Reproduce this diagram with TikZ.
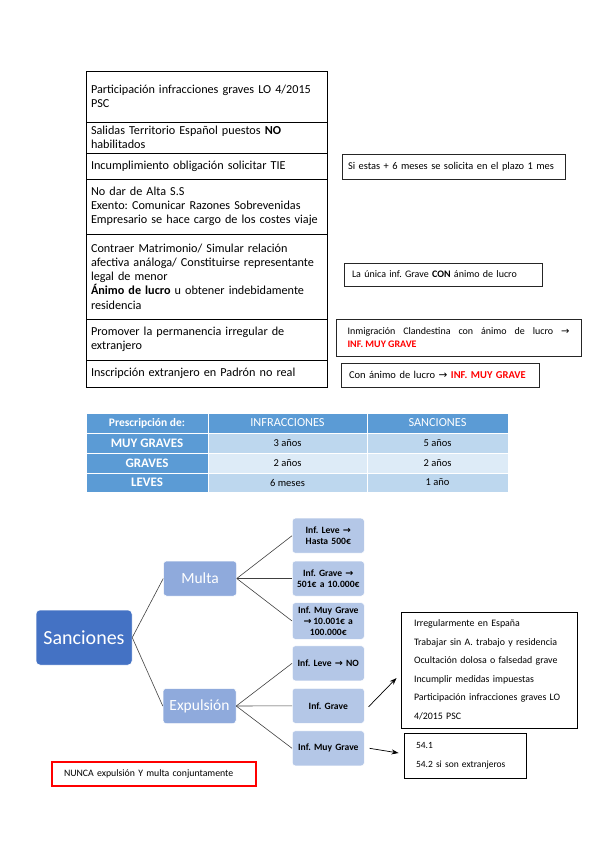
\documentclass[tikz,border=0pt]{standalone}
\usepackage{fontspec}
\setmainfont{Carlito}
\newfontfamily\symfont{DejaVu Sans}
\newcommand\rarr{{\symfont →}}
\usetikzlibrary{arrows.meta,calc}
\definecolor{thead}{HTML}{5B9BD5}
\definecolor{bandA}{HTML}{BDD7EE}
\definecolor{bandB}{HTML}{DDEBF7}
\definecolor{sanc}{HTML}{4472C4}
\definecolor{lvltwo}{HTML}{8FAADC}
\definecolor{lvlthree}{HTML}{B4C7E7}
\definecolor{linkgray}{HTML}{404040}
\definecolor{redtxt}{HTML}{FF0000}
\frenchspacing
\begin{document}
\begin{tikzpicture}[x=1pt,y=-1pt,
  rowcell/.style={draw=black, line width=0.9pt, anchor=north west, text width=231pt,
    inner xsep=5pt, inner ysep=0pt, outer sep=0pt, align=left,
    font=\fontsize{12.2}{14.3}\selectfont},
  rbox/.style={draw=black!85, line width=0.9pt, anchor=north west, inner ysep=0pt,
    outer sep=0pt, align=left, font=\fontsize{10}{12.5}\selectfont},
  tcell/.style={draw=white, line width=0.8pt, anchor=north west, inner sep=0pt,
    outer sep=0pt, align=center},
  tfirst/.style={tcell, fill=thead, text=white, font=\fontsize{13}{15}\selectfont\bfseries},
  tdata/.style={tcell, font=\fontsize{10.5}{12}\selectfont},
  lvone/.style={rounded corners=4pt, fill=sanc, draw=white, line width=0.5pt,
    text=white, minimum width=96pt, minimum height=55pt, inner sep=0pt,
    font=\fontsize{20}{22}\selectfont},
  lvtwo/.style={rounded corners=3pt, fill=lvltwo, draw=white, line width=0.5pt,
    text=white, minimum width=73pt, minimum height=35pt, inner sep=0pt,
    font=\fontsize{15.5}{17}\selectfont},
  lvthree/.style={rounded corners=3pt, fill=lvlthree, draw=white, line width=0.5pt,
    text=black, text width=70pt, minimum height=35pt, inner sep=1pt, align=center,
    font=\fontsize{9.6}{11}\selectfont\bfseries},
  link/.style={draw=linkgray, line width=0.6pt},
  pointer/.style={draw=black, line width=0.7pt, -{Stealth[length=7pt,width=5pt]}}
]
\useasboundingbox (0,0) rectangle (599,848);

% ---------- left list ----------
\node[rowcell, minimum height=51pt] (r1) at (86,71)
  {Participación infracciones graves LO 4/2015\\PSC};
\node[rowcell, minimum height=31pt] (r2) at (86,122)
  {Salidas Territorio Español puestos \textbf{NO}\\habilitados};
\node[rowcell, minimum height=26pt] (r3) at (86,153)
  {Incumplimiento obligación solicitar TIE};
\node[rowcell, minimum height=55pt] (r4) at (86,179)
  {No dar de Alta S.S\\Exento: Comunicar Razones Sobrevenidas\\\mbox{Empresario se hace cargo de los costes viaje}};
\node[rowcell, minimum height=85pt] (r5) at (86,234)
  {Contraer Matrimonio/ Simular relación\\\mbox{afectiva análoga/ Constituirse representante}\\legal de menor\\\textbf{Ánimo de lucro} u obtener indebidamente\\residencia};
\node[rowcell, minimum height=41pt] (r6) at (86,319)
  {Promover la permanencia irregular de\\extranjero};
\node[rowcell, minimum height=27pt] (r7) at (86,360)
  {Inscripción extranjero en Padrón no real};

% ---------- right notes ----------
\node[rbox, text width=211pt, inner xsep=6pt, minimum height=25pt,
  font=\fontsize{10.4}{12.5}\selectfont] (n1) at (342,154)
  {Si estas + 6 meses se solicita en el plazo 1 mes};
\node[rbox, text width=182pt, inner xsep=8pt, minimum height=23pt] (n2) at (344,263)
  {La única inf. Grave \textbf{CON} ánimo de lucro};
\node[rbox, text width=222pt, inner xsep=11.5pt, minimum height=37pt, align=justify] (n3) at (336,319)
  {Inmigración Clandestina con ánimo de lucro \rarr\linebreak
   \textcolor{redtxt}{\textbf{INF. MUY GRAVE}}};
\node[rbox, text width=182pt, inner xsep=8pt, minimum height=24pt,
  font=\fontsize{10.5}{12.5}\selectfont] (n4) at (341,363)
  {Con ánimo de lucro \rarr\ \textcolor{redtxt}{\textbf{INF. MUY GRAVE}}};

% ---------- prescription table ----------
\node[tfirst, minimum width=122pt, minimum height=20pt, font=\fontsize{11.5}{13}\selectfont\bfseries] (h1) at (86,413) {Prescripción de:};
\node[tcell, fill=thead, text=white, minimum width=159pt, minimum height=20pt, font=\fontsize{12.3}{14}\selectfont] (h2) at (208,413) {INFRACCIONES};
\node[tcell, fill=thead, text=white, minimum width=141pt, minimum height=20pt, font=\fontsize{12.3}{14}\selectfont] (h3) at (367,413) {SANCIONES};

\node[tfirst, minimum width=122pt, minimum height=20pt] (a1) at (86,433) {MUY GRAVES};
\node[tdata, fill=bandA, minimum width=159pt, minimum height=20pt] (a2) at (208,433) {3 años};
\node[tdata, fill=bandA, minimum width=141pt, minimum height=20pt] (a3) at (367,433) {5 años};

\node[tfirst, minimum width=122pt, minimum height=20pt] (b1) at (86,453) {GRAVES};
\node[tdata, fill=bandB, minimum width=159pt, minimum height=20pt] (b2) at (208,453) {2 años};
\node[tdata, fill=bandB, minimum width=141pt, minimum height=20pt] (b3) at (367,453) {2 años};

\node[tfirst, minimum width=122pt, minimum height=19pt] (c1) at (86,473) {LEVES};
\node[tdata, fill=bandA, minimum width=159pt, minimum height=19pt] (c2) at (208,473) {6 meses};
\node[tdata, fill=bandA, minimum width=141pt, minimum height=19pt] (c3) at (367,473) {1 año};

% ---------- hierarchy ----------
\node[lvone] (san) at (84,637.5) {Sanciones};
\node[lvtwo] (mul) at (200,578.5) {Multa};
\node[lvtwo] (exp) at (199.5,706) {Expulsión};

\node[lvthree] (m1) at (328.3,535.7) {Inf. Leve \rarr\\Hasta 500€};
\node[lvthree] (m2) at (328.3,578.5) {Inf. Grave \rarr\\501€ a 10.000€};
\node[lvthree, minimum height=36.6pt] (m3) at (328.3,621) {Inf. Muy Grave\\\rarr\,10.001€ a\\100.000€};
\node[lvthree] (e1) at (328.3,663.3) {Inf. Leve \rarr\ NO};
\node[lvthree] (e2) at (328.3,705.8) {Inf. Grave};
\node[lvthree] (e3) at (328.3,748.3) {Inf. Muy Grave};

\draw[link] (san.east) -- (mul.west);
\draw[link] (san.east) -- (exp.west);
\draw[link] (mul.east) -- (m1.west);
\draw[link] (mul.east) -- (m2.west);
\draw[link] (mul.east) -- (m3.west);
\draw[link] (exp.east) -- (e1.west);
\draw[link] (exp.east) -- (e2.west);
\draw[link] (exp.east) -- (e3.west);

% ---------- detail boxes ----------
\node[draw=black, line width=0.9pt, minimum width=176pt, minimum height=116pt,
  text width=150pt, inner xsep=13pt, inner ysep=0pt, align=left,
  font=\fontsize{9.9}{18.5}\selectfont] (big) at (489,670)
  {\mbox{Irregularmente en España}\\
   \mbox{Trabajar sin A. trabajo y residencia}\\
   \mbox{Ocultación dolosa o falsedad grave}\\
   \mbox{Incumplir medidas impuestas}\\
   \mbox{Participación infracciones graves LO}\\
   \mbox{4/2015 PSC}};
\node[draw=black, line width=0.9pt, minimum width=122pt, minimum height=45pt,
  text width=98pt, inner xsep=12pt, inner ysep=0pt, align=left,
  font=\fontsize{9.5}{19}\selectfont] (small) at (465,755.5)
  {54.1\\54.2 si son extranjeros};

\draw[pointer] ([xshift=4pt,yshift=-1pt]e2.east) -- ([xshift=-4pt,yshift=-8pt]big.west);
\draw[pointer] ([xshift=5pt]e3.east) -- ([xshift=-5pt,yshift=2.5pt]small.west);

\node[draw=redtxt, line width=1.2pt, minimum width=204pt, minimum height=24pt,
  text width=180pt, inner xsep=12pt, inner ysep=0pt, align=left,
  font=\fontsize{9.8}{11}\selectfont] (never) at (154,774)
  {\mbox{NUNCA expulsión Y multa conjuntamente}};
\end{tikzpicture}
\end{document}
